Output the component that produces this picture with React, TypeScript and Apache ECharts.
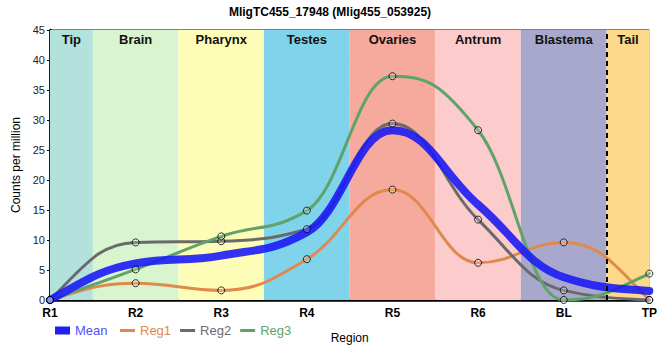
import React, { useEffect, useRef } from "react";
import * as echarts from "echarts";

const categories = ["R1", "R2", "R3", "R4", "R5", "R6", "BL", "TP"];
const meanValues = [0, 6.1, 7.4, 11.3, 28.3, 15.9, 3.8, 1.5];
const reg1Values = [0, 2.8, 1.6, 6.8, 18.4, 6.2, 9.6, 0];
const reg2Values = [0, 9.6, 9.8, 11.8, 29.4, 13.4, 1.6, 0];
const reg3Values = [0, 5.1, 10.6, 14.9, 37.3, 28.3, 0, 4.4];
const regionNames = ["Tip", "Brain", "Pharynx", "Testes", "Ovaries", "Antrum", "Blastema", "Tail"];
const regionStarts = [0, 0.5, 1.5, 2.5, 3.5, 4.5, 5.5, 6.5];
const regionEnds = [0.5, 1.5, 2.5, 3.5, 4.5, 5.5, 6.5, 7];
const tailBoundary = 6.5;

const regionColors = ["#b3e2dc", "#d8f5d0", "#fdfdb8", "#7fd4ec", "#f5aa9d", "#fccbcc", "#a8a8cc", "#fdd98c"];
const FONT = "'Liberation Sans', Arial, sans-serif";
const HANDLE = 0.42;

const toPairs = (arr: number[]) => arr.map((v, i) => [i, v]);

// monotone cubic tangents, in data units per category step
function monotoneTangents(y: number[]): number[] {
  const n = y.length;
  const s: number[] = [];
  for (let i = 0; i < n - 1; i++) s.push(y[i + 1] - y[i]);
  const t = new Array(n).fill(0);
  for (let i = 1; i < n - 1; i++) {
    const s0 = s[i - 1];
    const s1 = s[i];
    const p = (s0 + s1) / 2;
    t[i] = (Math.sign(s0) + Math.sign(s1)) * Math.min(Math.abs(s0), Math.abs(s1), 0.5 * Math.abs(p)) || 0;
  }
  t[0] = (3 * s[0] - t[1]) / 2;
  t[n - 1] = (3 * s[n - 2] - t[n - 2]) / 2;
  return t;
}

function curveSeries(name: string, values: number[], color: string, width: number, z: number, opacity = 1) {
  const tan = monotoneTangents(values);
  return {
    name,
    type: "custom",
    coordinateSystem: "cartesian2d",
    z,
    data: toPairs(values),
    itemStyle: { color },
    silent: true,
    renderItem: (params: any, api: any) => {
      if (params.dataIndex !== 0) return null;
      const p0 = api.coord([0, values[0]]);
      let d = `M${p0[0]},${p0[1]}`;
      for (let i = 0; i < values.length - 1; i++) {
        const c1 = api.coord([i + HANDLE, values[i] + tan[i] * HANDLE]);
        const c2 = api.coord([i + 1 - HANDLE, values[i + 1] - tan[i + 1] * HANDLE]);
        const p1 = api.coord([i + 1, values[i + 1]]);
        d += ` C${c1[0]},${c1[1]} ${c2[0]},${c2[1]} ${p1[0]},${p1[1]}`;
      }
      return {
        type: "path",
        shape: { pathData: d },
        style: { fill: "none", stroke: color, lineWidth: width, opacity, lineJoin: "round", lineCap: "round" },
      };
    },
  };
}

export default function App() {
  const ref = useRef<HTMLDivElement>(null);
  useEffect(() => {
    if (!ref.current) return;
    const chart = echarts.init(ref.current, undefined, { renderer: "svg" });
    const regs = [
      { name: "Reg1", data: reg1Values, color: "#e0894d" },
      { name: "Reg2", data: reg2Values, color: "#6a6a6a" },
      { name: "Reg3", data: reg3Values, color: "#5fa36a" },
    ];
    const markerStyle = { color: "rgba(255,255,255,0.25)", borderColor: "#000", borderWidth: 1 };
    chart.setOption({
      animation: false,
      textStyle: { fontFamily: FONT },
      title: {
        text: "MligTC455_17948 (Mlig455_053925)",
        left: "center",
        top: 1,
        textStyle: { fontSize: 12, fontWeight: "bold", color: "#000", fontFamily: FONT },
      },
      legend: [
        {
          left: 55,
          top: 324,
          padding: 0,
          icon: "rect",
          itemWidth: 15,
          itemHeight: 8,
          textStyle: { fontSize: 13, fontFamily: FONT },
          data: [{ name: "Mean", itemStyle: { color: "#2020f0" }, textStyle: { color: "#5050ff" } }],
        },
        {
          left: 120,
          top: 324,
          padding: 0,
          icon: "rect",
          itemWidth: 15,
          itemHeight: 3,
          itemGap: 9,
          textStyle: { fontSize: 13, fontFamily: FONT },
          data: regs.map((r) => ({ name: r.name, itemStyle: { color: r.color }, textStyle: { color: r.color } })),
        },
      ],
      grid: {
        left: 50,
        right: 10,
        top: 30,
        bottom: 60,
        show: true,
        borderColor: "#000",
        borderWidth: 1,
        backgroundColor: "transparent",
      },
      xAxis: {
        type: "value",
        min: 0,
        max: 7,
        interval: 1,
        name: "Region",
        nameLocation: "middle",
        nameGap: 32,
        nameTextStyle: { fontSize: 12, color: "#000", fontFamily: FONT },
        axisLine: { show: true, onZero: false, lineStyle: { color: "#000", width: 2.5 } },
        axisTick: { show: false },
        axisLabel: {
          formatter: (v: number) => categories[v] ?? "",
          fontSize: 12,
          fontWeight: "bold",
          color: "#000",
          margin: 7,
          fontFamily: FONT,
        },
        splitLine: { show: true, lineStyle: { color: "#c8c8c8", width: 1 } },
      },
      yAxis: {
        type: "value",
        min: 0,
        max: 45,
        interval: 5,
        name: "Counts per million",
        nameLocation: "middle",
        nameGap: 22,
        nameTextStyle: { fontSize: 12, color: "#000", fontFamily: FONT },
        axisLine: { show: true, lineStyle: { color: "#000", width: 2.5 } },
        axisTick: { show: true, length: 3, lineStyle: { color: "#000" } },
        axisLabel: { fontSize: 11, color: "#222", margin: 5, fontFamily: FONT },
        splitLine: { show: true, lineStyle: { color: "#c8c8c8", width: 1 } },
      },
      series: [
        {
          name: "bands",
          type: "line",
          z: -1,
          data: [[0, 0]],
          symbol: "none",
          lineStyle: { opacity: 0 },
          silent: true,
          markArea: {
            silent: true,
            label: {
              show: true,
              position: "insideTop",
              distance: 3,
              fontSize: 13,
              fontWeight: "bold",
              color: "#111",
              fontFamily: FONT,
            },
            data: regionNames.map((n, i) => [
              { name: n, xAxis: regionStarts[i], yAxis: 0, itemStyle: { color: regionColors[i], opacity: 1 } },
              { xAxis: regionEnds[i], yAxis: 45 },
            ]),
          },
        },
        ...regs.map((r) => curveSeries(r.name, r.data, r.color, 3, 2)),
        curveSeries("Mean", meanValues, "#1c1cf5", 8, 3, 0.9),
        ...regs.map((r) => ({
          name: r.name + "-pts",
          type: "scatter",
          z: 4,
          data: toPairs(r.data),
          symbol: "circle",
          symbolSize: 7,
          itemStyle: markerStyle,
          silent: true,
        })),
        {
          name: "tail-line",
          type: "line",
          z: 5,
          data: [],
          markLine: {
            silent: true,
            symbol: "none",
            label: { show: false },
            lineStyle: { color: "#000", type: [5, 4], width: 2 },
            data: [{ xAxis: tailBoundary }],
          },
        },
      ],
    });
    return () => chart.dispose();
  }, []);
  return <div ref={ref} style={{ width: 660, height: 360, position: "absolute", left: 0, top: 0 }} />;
}
